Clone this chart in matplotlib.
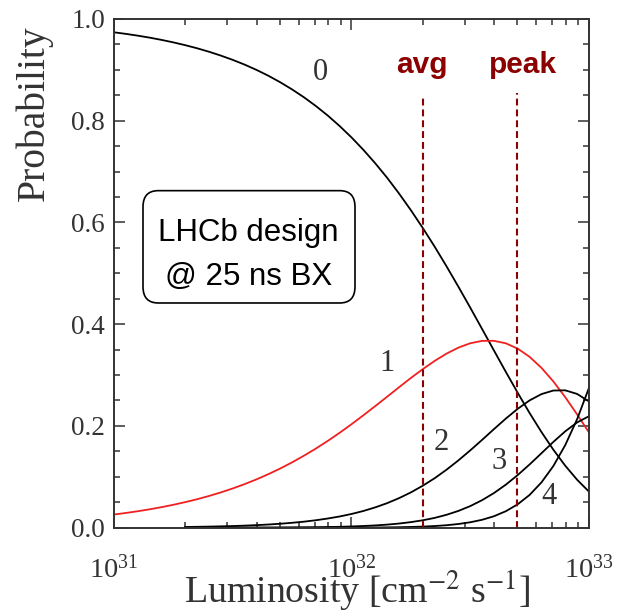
import matplotlib
matplotlib.use("Agg")
import matplotlib.pyplot as plt
from matplotlib.patches import FancyBboxPatch
from matplotlib.ticker import MultipleLocator, FormatStrFormatter

# luminosity grid (cm^-2 s^-1) and pile-up probabilities
lum = [1.0e31, 1.122e31, 1.259e31, 1.413e31, 1.585e31, 1.778e31, 1.995e31,
       2.239e31, 2.512e31, 2.818e31, 3.162e31, 3.548e31, 3.981e31, 4.467e31,
       5.012e31, 5.623e31, 6.310e31, 7.079e31, 7.943e31, 8.913e31,
       1.0e32, 1.122e32, 1.259e32, 1.413e32, 1.585e32, 1.778e32, 1.995e32,
       2.239e32, 2.512e32, 2.818e32, 3.162e32, 3.548e32, 3.981e32, 4.467e32,
       5.012e32, 5.623e32, 6.310e32, 7.079e32, 7.943e32, 8.913e32, 1.0e33]
p0 = [0.9738, 0.9707, 0.9672, 0.9633, 0.9589, 0.9540, 0.9485, 0.9424, 0.9356,
      0.9280, 0.9196, 0.9103, 0.8999, 0.8884, 0.8756, 0.8615, 0.8460, 0.8289,
      0.8102, 0.7896, 0.7672, 0.7428, 0.7163, 0.6878, 0.6570, 0.6242, 0.5893,
      0.5525, 0.5139, 0.4738, 0.4326, 0.3905, 0.3482, 0.3061, 0.2650, 0.2253,
      0.1879, 0.1532, 0.1218, 0.0942, 0.0707]
p1 = [0.0258, 0.0289, 0.0323, 0.0361, 0.0403, 0.0450, 0.0502, 0.0559, 0.0623,
      0.0693, 0.0771, 0.0856, 0.0949, 0.1052, 0.1163, 0.1284, 0.1415, 0.1555,
      0.1705, 0.1865, 0.2033, 0.2209, 0.2390, 0.2574, 0.2760, 0.2942, 0.3116,
      0.3278, 0.3421, 0.3539, 0.3625, 0.3672, 0.3673, 0.3624, 0.3519, 0.3358,
      0.3141, 0.2874, 0.2565, 0.2226, 0.1872]
# curves 2, 3, 4 start at 2e31
p2 = [0.0013, 0.0017, 0.0021, 0.0026, 0.0032, 0.0040, 0.0050, 0.0062, 0.0077,
      0.0096, 0.0118, 0.0146, 0.0180, 0.0220, 0.0269, 0.0328, 0.0399, 0.0482,
      0.0580, 0.0693, 0.0824, 0.0972, 0.1139, 0.1322, 0.1519, 0.1726, 0.1938,
      0.2145, 0.2337, 0.2502, 0.2626, 0.2696, 0.2700, 0.2629, 0.2481]
p3 = [0.0000, 0.0000, 0.0000, 0.0001, 0.0001, 0.0001, 0.0002, 0.0002, 0.0003,
      0.0005, 0.0007, 0.0009, 0.0013, 0.0017, 0.0024, 0.0033, 0.0044, 0.0060,
      0.0081, 0.0109, 0.0145, 0.0192, 0.0253, 0.0329, 0.0424, 0.0541, 0.0681,
      0.0846, 0.1035, 0.1243, 0.1464, 0.1686, 0.1894, 0.2069, 0.2191]
p4 = [0.0000, 0.0000, 0.0000, 0.0000, 0.0000, 0.0000, 0.0000, 0.0000, 0.0000,
      0.0000, 0.0000, 0.0000, 0.0001, 0.0001, 0.0002, 0.0003, 0.0004, 0.0006,
      0.0009, 0.0014, 0.0021, 0.0032, 0.0048, 0.0072, 0.0106, 0.0155, 0.0225,
      0.0324, 0.0460, 0.0644, 0.0891, 0.1212, 0.1623, 0.2133, 0.2749]

marker_lum = [2e32, 5e32]
marker_top = [0.847, 0.854]
marker_names = ["avg", "peak"]

plt.rcParams["font.family"] = "serif"
plt.rcParams["font.serif"] = ["Liberation Serif", "DejaVu Serif"]
plt.rcParams["mathtext.fontset"] = "stix"

grey = "#333333"
dred = "#8b0000"

fig = plt.figure(figsize=(6.29, 6.14), dpi=100)
ax = fig.add_axes([0.1812, 0.1406, 0.7552, 0.8285])

ax.plot(lum, p0, color="black", lw=1.3)
ax.plot(lum, p1, color="#f02020", lw=1.3)
ax.plot(lum[6:], p2, color="black", lw=1.3)
ax.plot(lum[6:], p3, color="black", lw=1.3)
ax.plot(lum[6:], p4, color="black", lw=1.3)

for xv, top in zip(marker_lum, marker_top):
    ax.plot([xv, xv], [0, top], color=dred, lw=1.5, linestyle=(0, (3.3, 1.9)))

ax.set_xscale("log")
ax.set_xlim(1e31, 1e33)
ax.set_ylim(0, 1)
ax.yaxis.set_major_locator(MultipleLocator(0.2))
ax.yaxis.set_minor_locator(MultipleLocator(0.05))
ax.yaxis.set_major_formatter(FormatStrFormatter("%.1f"))

ax.tick_params(which="both", direction="in", top=True, right=True,
               color=grey, width=1.1, labelcolor=grey)
ax.tick_params(which="major", length=8)
ax.tick_params(which="minor", length=4.5)
ax.tick_params(axis="y", labelsize=19.5, pad=6.5)
ax.tick_params(axis="x", labelsize=20.5, pad=20)
for sp in ax.spines.values():
    sp.set_color(grey)
    sp.set_linewidth(1.4)

ax.set_xlabel(r"Luminosity [cm$^{-2}$ s$^{-1}$]", fontsize=27.3, color=grey)
ax.xaxis.label.set_verticalalignment("baseline")
ax.xaxis.set_label_coords(0.5126, -0.150)
ax.set_ylabel("Probability", fontsize=28.5, color=grey)
ax.yaxis.set_label_coords(-0.128, 0.815)

# curve numbers
for txt, xa, ya in [("0", 0.435, 0.894), ("1", 0.575, 0.3237), ("2", 0.690, 0.1665),
                    ("3", 0.8105, 0.131), ("4", 0.9158, 0.0603)]:
    ax.text(xa, ya, txt, transform=ax.transAxes, ha="center", va="center",
            fontsize=22, color=grey)

for name, xa in zip(marker_names, [0.648, 0.861]):
    ax.text(xa, 0.8944, name, transform=ax.transAxes, ha="center", va="baseline",
            fontsize=21.5, fontweight="bold", color=dred, family="Liberation Sans")

box = FancyBboxPatch((0.0611, 0.4417), 0.4463, 0.2208, transform=ax.transAxes,
                     boxstyle="round,pad=0,rounding_size=0.032",
                     fc="white", ec="black", lw=1.2, zorder=3)
ax.add_patch(box)
ax.text(0.283, 0.5642, "LHCb design", transform=ax.transAxes, ha="center",
        va="baseline", fontsize=22.5, family="Liberation Sans", zorder=4)
ax.text(0.283, 0.4766, "@ 25 ns BX", transform=ax.transAxes, ha="center",
        va="baseline", fontsize=22.5, family="Liberation Sans", zorder=4)

fig.savefig("out.png", dpi=100)
